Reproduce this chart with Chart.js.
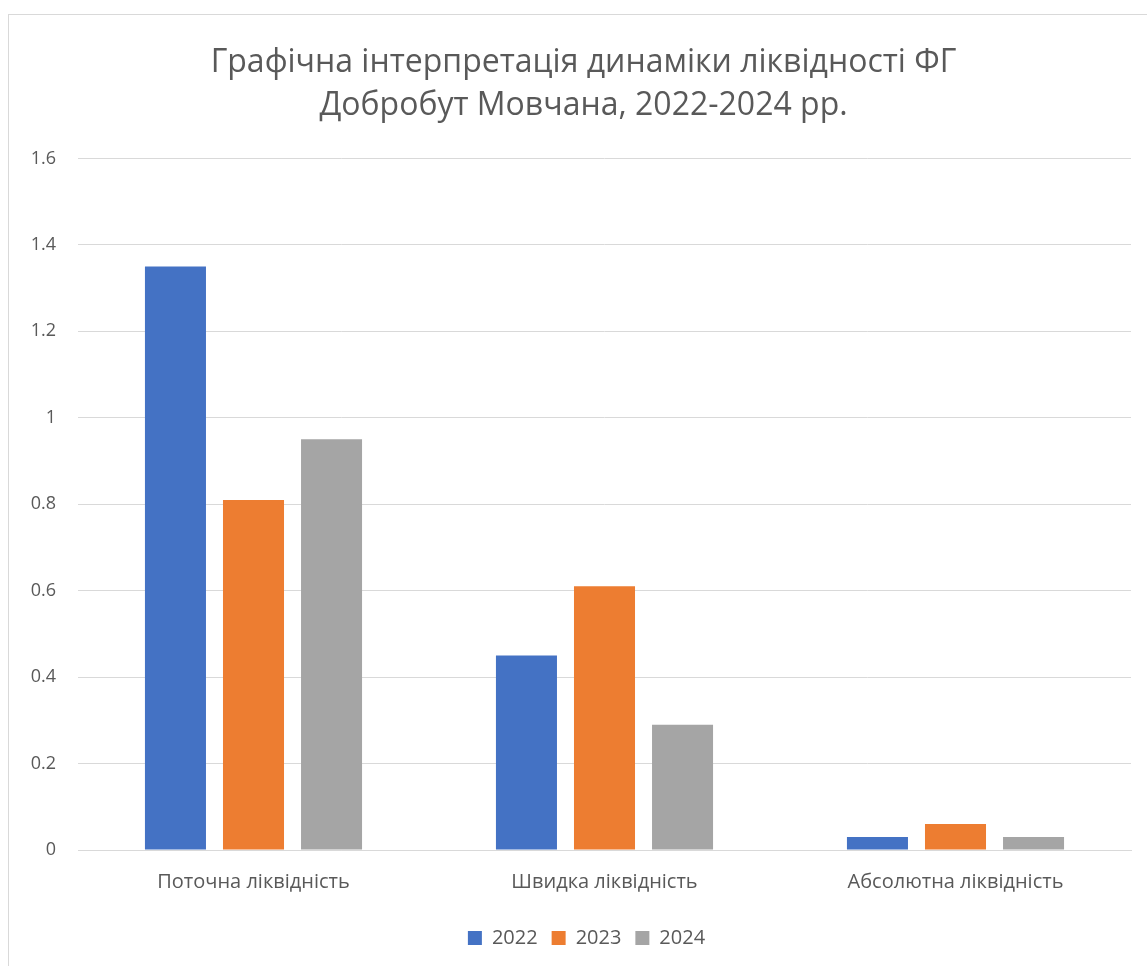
<!DOCTYPE html>
<html><head><meta charset="utf-8">
<script src="https://cdn.jsdelivr.net/npm/chart.js@4"></script>
<style>
html,body{margin:0;padding:0;background:#fff;}
#wrap{position:absolute;left:0;top:0;width:1147px;height:966px;}
#frame{position:absolute;left:8px;top:14px;width:1160px;height:970px;border:1px solid #d9d9d9;box-sizing:border-box;}
canvas{position:absolute;left:0;top:0;}
</style></head>
<body><div id="wrap"><div id="frame"></div><canvas id="c" width="1147" height="966"></canvas></div>
<script>
const titleLines = ["Графічна інтерпретація динаміки ліквідності ФГ", "Добробут Мовчана, 2022-2024 рр."];
const categories = ["Поточна ліквідність", "Швидка ліквідність", "Абсолютна ліквідність"];
const seriesNames = ["2022", "2023", "2024"];
const values2022 = [1.35, 0.45, 0.03];
const values2023 = [0.81, 0.61, 0.06];
const values2024 = [0.95, 0.29, 0.03];
const colors = ["#4472c4", "#ed7d31", "#a5a5a5"];
const fontFam = "'Open Sans', 'Noto Sans', sans-serif";

// Centre title and legend on the outer chart frame (like the original), not on the canvas minus padding.
const shiftBlocks = {
  id: 'shiftBlocks',
  afterLayout(chart) {
    const t = chart.titleBlock, l = chart.legend;
    if (t) { t.left += 18; t.right += 18; }
    if (l) {
      l.left += 21; l.right += 21;
      if (l.legendHitBoxes) l.legendHitBoxes.forEach(b => { b.left += 21; });
    }
  }
};

new Chart(document.getElementById('c'), {
  type: 'bar',
  data: {
    labels: categories,
    datasets: [values2022, values2023, values2024].map((v, i) => ({
      label: seriesNames[i], data: v, backgroundColor: colors[i], borderWidth: 0,
      categoryPercentage: 0.667, barPercentage: 0.782
    }))
  },
  options: {
    responsive: false, animation: false,
    layout: { padding: { left: 0, right: 16, top: 41, bottom: 8 } },
    plugins: {
      title: { display: true, text: titleLines, color: '#595959',
        font: { family: fontFam, size: 32, weight: 'normal', lineHeight: 1.35 }, padding: { top: 0, bottom: 31 } },
      legend: { position: 'bottom', labels: { color: '#595959', boxWidth: 14, boxHeight: 14, padding: 14,
        font: { family: fontFam, size: 20 } } },
      tooltip: { enabled: false }
    },
    scales: {
      x: { grid: { display: false, drawTicks: false }, border: { display: true, color: '#d9d9d9', width: 1 },
        ticks: { color: '#595959', padding: 20, font: { family: fontFam, size: 20 } } },
      y: { min: 0, max: 1.6, grid: { color: '#d9d9d9', drawTicks: false }, border: { display: false },
        ticks: { stepSize: 0.2, color: '#595959', padding: 22, font: { family: fontFam, size: 18 },
          callback: v => String(Math.round(v * 10) / 10) },
        afterFit: s => { s.width = 78; } }
    }
  },
  plugins: [shiftBlocks]
});
</script></body></html>
